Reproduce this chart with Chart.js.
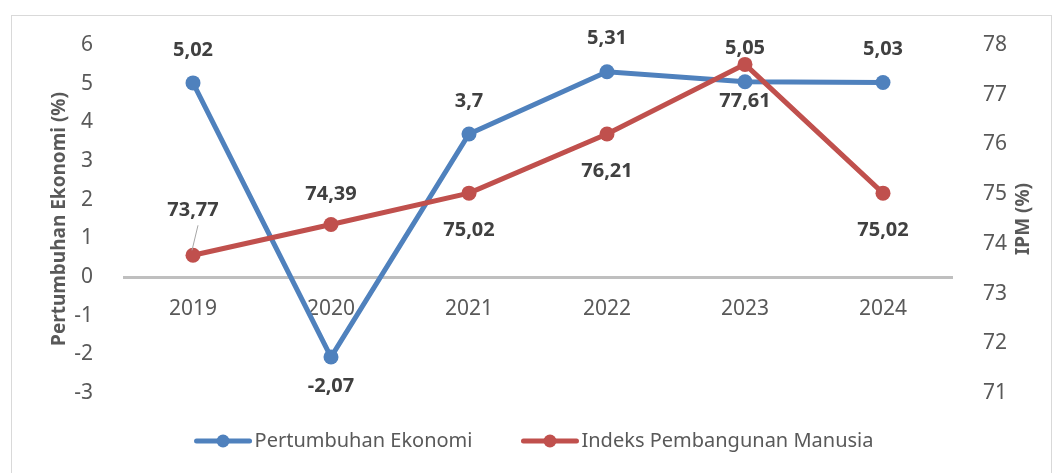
<!DOCTYPE html>
<html>
<head>
<meta charset="utf-8">
<script src="https://cdn.jsdelivr.net/npm/chart.js@4"></script>
<style>
  html, body { margin: 0; padding: 0; background: #fff; }
  #wrap { width: 1061px; height: 473px; position: relative; }
</style>
</head>
<body>
<div id="wrap"><canvas id="chart"></canvas></div>
<script>
const years = ['2019', '2020', '2021', '2022', '2023', '2024'];
const growth = [5.02, -2.07, 3.7, 5.31, 5.05, 5.03];
const ipm = [73.77, 74.39, 75.02, 76.21, 77.61, 75.02];
const growthLabelPos = ['above', 'below', 'above', 'above', 'above', 'above'];
const ipmLabelPos = ['above', 'above', 'below', 'below', 'below', 'below'];

const BLUE = '#4f81bd';
const RED = '#c0504d';
const FONT = "'Noto Sans', 'Open Sans', sans-serif";

const fmt = v => String(v).replace('.', ',');

const extras = {
    id: 'extras',
    beforeDraw(chart) {
        const ctx = chart.ctx;
        ctx.save();
        ctx.strokeStyle = '#d9d9d9';
        ctx.lineWidth = 1;
        ctx.strokeRect(11.5, 15.5, 1040, 500);
        ctx.restore();
    },
    afterDatasetsDraw(chart) {
        const ctx = chart.ctx;
        ctx.save();
        ctx.font = 'bold 20px ' + FONT;
        ctx.fillStyle = '#404040';
        ctx.textAlign = 'center';
        ctx.textBaseline = 'middle';
        chart.data.datasets.forEach((ds, di) => {
            const meta = chart.getDatasetMeta(di);
            const pos = di === 0 ? growthLabelPos : ipmLabelPos;
            meta.data.forEach((pt, i) => {
                let dy = pos[i] === 'above' ? -33 : (di === 0 ? 29 : 37);
                if (di === 1 && i === 0) {
                    dy = -45;
                    ctx.strokeStyle = '#a6a6a6';
                    ctx.lineWidth = 1;
                    ctx.beginPath();
                    ctx.moveTo(pt.x + 5, pt.y - 30);
                    ctx.lineTo(pt.x - 1, pt.y - 5);
                    ctx.stroke();
                }
                if (di === 1 && i === 1) dy = -30;
                ctx.fillText(fmt(ds.data[i]), pt.x, pt.y + dy);
            });
        });

        // right axis title, reads bottom to top
        const area = chart.chartArea;
        ctx.save();
        ctx.translate(1024, (area.top + area.bottom) / 2);
        ctx.rotate(-Math.PI / 2);
        ctx.font = 'bold 19px ' + FONT;
        ctx.fillStyle = '#595959';
        ctx.fillText('IPM (%)', 0, 0);
        ctx.restore();

        // legend: line with a dot, then the label
        ctx.font = '20px ' + FONT;
        ctx.textAlign = 'left';
        const symW = 57, gap = 3, spacing = 49;
        const items = chart.data.datasets.map(ds => ({
            text: ds.label, color: ds.borderColor, w: ctx.measureText(ds.label).width
        }));
        const total = items.reduce((s, it) => s + symW + gap + it.w, 0) + spacing * (items.length - 1);
        let x = 534 - total / 2;
        const y = 441;
        items.forEach(it => {
            ctx.strokeStyle = it.color;
            ctx.lineWidth = 5;
            ctx.lineCap = 'round';
            ctx.beginPath();
            ctx.moveTo(x + 2, y);
            ctx.lineTo(x + symW - 2, y);
            ctx.stroke();
            ctx.fillStyle = it.color;
            ctx.beginPath();
            ctx.arc(x + symW / 2, y, 6.5, 0, Math.PI * 2);
            ctx.fill();
            ctx.fillStyle = '#595959';
            ctx.fillText(it.text, x + symW + gap, y);
            x += symW + gap + it.w + spacing;
        });
        ctx.restore();
    }
};

new Chart(document.getElementById('chart'), {
    type: 'line',
    data: {
        labels: years,
        datasets: [{
            label: 'Pertumbuhan Ekonomi',
            data: growth,
            yAxisID: 'y',
            borderColor: BLUE,
            backgroundColor: BLUE,
            borderWidth: 5,
            pointRadius: 7.5,
            pointHoverRadius: 7.5,
            pointBorderWidth: 0,
            tension: 0,
            order: 1
        }, {
            label: 'Indeks Pembangunan Manusia',
            data: ipm,
            yAxisID: 'y1',
            borderColor: RED,
            backgroundColor: RED,
            borderWidth: 5,
            pointRadius: 7.5,
            pointHoverRadius: 7.5,
            pointBorderWidth: 0,
            tension: 0,
            order: 0
        }]
    },
    options: {
        responsive: true,
        maintainAspectRatio: false,
        animation: false,
        layout: { padding: { left: 0, right: 0, top: 45, bottom: 80 } },
        plugins: {
            legend: { display: false },
            tooltip: { enabled: false }
        },
        scales: {
            x: {
                position: { y: 0 },
                offset: true,
                grid: { display: false },
                border: { display: true, color: '#bfbfbf', width: 3 },
                ticks: {
                    color: '#595959',
                    font: { family: FONT, size: 21 },
                    padding: 11
                }
            },
            y: {
                position: 'left',
                min: -3,
                max: 6,
                grid: { display: false },
                border: { display: false },
                ticks: {
                    stepSize: 1,
                    color: '#595959',
                    font: { family: FONT, size: 21 },
                    padding: 23
                },
                title: {
                    display: true,
                    text: 'Pertumbuhan Ekonomi (%)',
                    color: '#595959',
                    font: { family: FONT, size: 19, weight: 'bold' },
                    padding: { top: 48, bottom: 0 }
                },
                afterFit(scale) { scale.width = 124; }
            },
            y1: {
                position: 'right',
                min: 71,
                max: 78,
                grid: { display: false },
                border: { display: false },
                ticks: {
                    stepSize: 1,
                    color: '#595959',
                    font: { family: FONT, size: 21 },
                    padding: 23
                },
                afterFit(scale) { scale.width = 109; }
            }
        }
    },
    plugins: [extras]
});
</script>
</body>
</html>
